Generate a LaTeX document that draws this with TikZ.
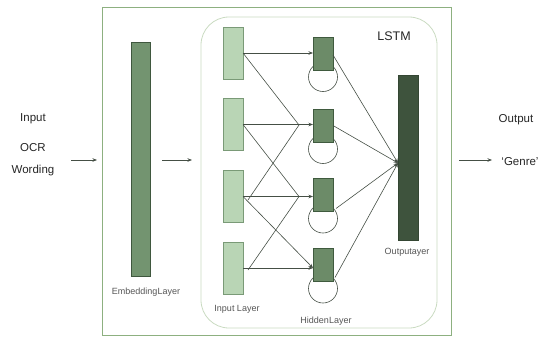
\documentclass[tikz,border=0pt]{standalone}
\usepackage{fontspec}
\setmainfont{Liberation Sans}
\usetikzlibrary{arrows.meta}
\definecolor{inFill}{HTML}{B9D5B5}
\definecolor{inDraw}{HTML}{7A9A77}
\definecolor{hidFill}{HTML}{6C8B68}
\definecolor{hidDraw}{HTML}{3F5A3E}
\definecolor{outFill}{HTML}{3E533D}
\definecolor{outDraw}{HTML}{344633}
\definecolor{embFill}{HTML}{739470}
\definecolor{embDraw}{HTML}{3F573E}
\definecolor{frameCol}{HTML}{8DB080}
\definecolor{lstmCol}{HTML}{CADBC2}
\definecolor{lineCol}{HTML}{454F45}
\definecolor{labCol}{HTML}{555555}
\pgfdeclarelayer{bg}
\pgfsetlayers{bg,main}
\tikzset{
  layerbox/.style={draw, line width=0.8pt, inner sep=0pt, outer sep=0pt},
  inbox/.style={layerbox, fill=inFill, draw=inDraw, minimum width=20pt, minimum height=52pt},
  hidbox/.style={layerbox, fill=hidFill, draw=hidDraw, minimum width=20pt, minimum height=33pt},
  conn/.style={draw=lineCol, line width=0.6pt},
  arr/.style={conn, -{Stealth[length=4.5pt,width=3.5pt]}},
  bigtext/.style={font=\fontsize{11.5}{13}\selectfont, text=black!85},
  smalltext/.style={font=\fontsize{9}{10}\selectfont, text=labCol},
  loop/.style={draw=lineCol, line width=0.6pt}
}
\begin{document}
\begin{tikzpicture}[x=1pt,y=-1pt]
\useasboundingbox (0,0) rectangle (545,338);
% frames
\draw[frameCol, line width=1pt] (102,7) rectangle (451,335);
\draw[lstmCol, line width=0.8pt, rounded corners=28pt] (201,17) rectangle (437,328);
% texts outside
\node[bigtext] (tin) at (33,119) {Input};
\node[bigtext] (tocr) at (33,148) {OCR};
\node[bigtext] (twd) at (33,171) {Wording};
\node[bigtext] (tout) at (516,120) {Output};
\node[bigtext] (tgen) at (520,162) {‘Genre’};
\node[font=\fontsize{12.5}{14}\selectfont, text=black!85] (lstm) at (394,36) {LSTM};
% layers
\node[layerbox, fill=embFill, draw=embDraw, minimum width=19pt, minimum height=234pt] (emb) at (141,159) {};
\node[inbox] (in1) at (233,53) {};
\node[inbox] (in2) at (233,124.5) {};
\node[inbox] (in3) at (233,196.5) {};
\node[inbox] (in4) at (233,268) {};
\node[hidbox] (h1) at (323,53.5) {};
\node[hidbox] (h2) at (323,125.5) {};
\node[hidbox] (h3) at (323,195) {};
\node[hidbox] (h4) at (323,265) {};
\node[layerbox, fill=outFill, draw=outDraw, minimum width=20pt, minimum height=165pt] (out) at (408,157.5) {};
% labels
\node[smalltext] (lemb) at (146,292) {EmbeddingLayer};
\node[smalltext] (lin) at (237,309) {Input Layer};
\node[smalltext] (lhid) at (326,321) {HiddenLayer};
\node[smalltext] (lout) at (407,252) {Outputayer};
% loops behind hidden boxes
\begin{pgfonlayer}{bg}
\foreach \h in {h1,h2,h3,h4}{
  \draw[loop] ([yshift=-7pt]\h.south) circle[radius=14.5pt];
}
\end{pgfonlayer}
% coordinates
\coordinate (a1s) at (71,160);
\coordinate (a1e) at (97,160);
\coordinate (a2s) at (162,160);
\coordinate (a2e) at (192,160);
\coordinate (a3s) at (459,160);
\coordinate (a3e) at (492,160);
\coordinate (c2) at (299,125);
\coordinate (c3) at (299,196.5);
\coordinate (u3) at (248,200);
\coordinate (u4) at (248,270);
% outside arrows
\draw[arr] (a1s) -- (a1e);
\draw[arr] (a2s) -- (a2e);
\draw[arr] (a3s) -- (a3e);
% input -> hidden
\draw[arr] (in1.east) -- (in1.east -| h1.west);
\draw[arr] (in2.east) -- (in2.east -| h2.west);
\draw[arr] (in3.east) -- (in3.east -| h3.west);
\draw[arr] (in4.east) -- (in4.east -| h4.west);
\draw[conn] (in1.east) -- (c2);
\draw[conn] (u3) -- (c2);
\draw[conn] (in2.east) -- (c3);
\draw[conn] (u4) -- (c3);
\draw[arr] (in3.east) -- ([yshift=-3pt]h4.west);
% hidden -> output
\coordinate (oc) at ([yshift=-5.5pt]out.west);
\draw[arr] ([yshift=-1.5pt]h1.east) -- (oc);
\draw[arr] (h2.east) -- (oc);
\draw[arr] ([xshift=3pt,yshift=3pt]h3.south east) -- (oc);
\draw[arr] ([xshift=2pt,yshift=4pt]h4.south east) -- (oc);
\end{tikzpicture}
\end{document}
